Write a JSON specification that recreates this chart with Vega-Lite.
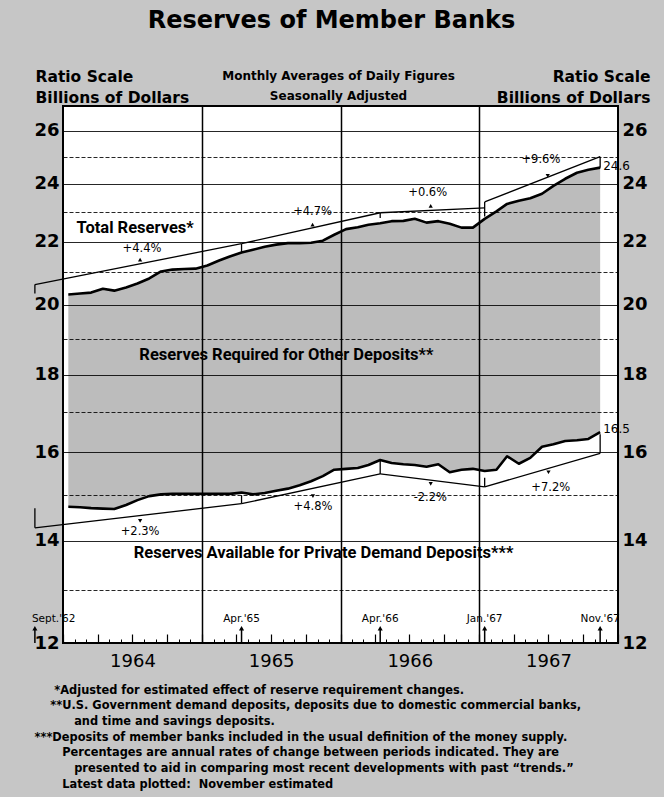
{
  "$schema": "https://vega.github.io/schema/vega-lite/v6.json",
  "width": 555,
  "height": 537,
  "autosize": {"type": "none"},
  "padding": {"left": 63, "top": 106, "right": 46, "bottom": 154},
  "background": "#c6c6c6",
  "view": {"fill": "white", "stroke": "black", "strokeWidth": 2},
  "title": {"text": "Reserves of Member Banks", "font": "DejaVu Sans", "fontSize": 24, "fontWeight": "bold", "color": "black", "anchor": "middle", "frame": "group", "dx": -9, "offset": 36},
  "datasets": {
    "series": [
      {"month": "1964-01-15", "total": 20.31, "private": 14.74},
      {"month": "1964-02-15", "total": 20.34, "private": 14.73},
      {"month": "1964-03-15", "total": 20.37, "private": 14.71},
      {"month": "1964-04-15", "total": 20.49, "private": 14.70},
      {"month": "1964-05-15", "total": 20.43, "private": 14.69},
      {"month": "1964-06-15", "total": 20.53, "private": 14.78},
      {"month": "1964-07-15", "total": 20.65, "private": 14.89},
      {"month": "1964-08-15", "total": 20.81, "private": 14.98},
      {"month": "1964-09-15", "total": 21.03, "private": 15.02},
      {"month": "1964-10-15", "total": 21.09, "private": 15.03},
      {"month": "1964-11-15", "total": 21.11, "private": 15.03},
      {"month": "1964-12-15", "total": 21.12, "private": 15.03},
      {"month": "1965-01-15", "total": 21.22, "private": 15.03},
      {"month": "1965-02-15", "total": 21.38, "private": 15.03},
      {"month": "1965-03-15", "total": 21.51, "private": 15.03},
      {"month": "1965-04-15", "total": 21.64, "private": 15.06},
      {"month": "1965-05-15", "total": 21.73, "private": 15.02},
      {"month": "1965-06-15", "total": 21.83, "private": 15.05},
      {"month": "1965-07-15", "total": 21.90, "private": 15.10},
      {"month": "1965-08-15", "total": 21.95, "private": 15.15},
      {"month": "1965-09-15", "total": 21.95, "private": 15.23},
      {"month": "1965-10-15", "total": 21.96, "private": 15.32},
      {"month": "1965-11-15", "total": 22.03, "private": 15.44},
      {"month": "1965-12-15", "total": 22.23, "private": 15.59},
      {"month": "1966-01-15", "total": 22.42, "private": 15.61},
      {"month": "1966-02-15", "total": 22.48, "private": 15.63},
      {"month": "1966-03-15", "total": 22.57, "private": 15.70},
      {"month": "1966-04-15", "total": 22.62, "private": 15.82},
      {"month": "1966-05-15", "total": 22.69, "private": 15.75},
      {"month": "1966-06-15", "total": 22.70, "private": 15.72},
      {"month": "1966-07-15", "total": 22.77, "private": 15.70},
      {"month": "1966-08-15", "total": 22.64, "private": 15.66},
      {"month": "1966-09-15", "total": 22.69, "private": 15.72},
      {"month": "1966-10-15", "total": 22.60, "private": 15.53},
      {"month": "1966-11-15", "total": 22.47, "private": 15.59},
      {"month": "1966-12-15", "total": 22.47, "private": 15.61},
      {"month": "1967-01-15", "total": 22.77, "private": 15.56},
      {"month": "1967-02-15", "total": 23.03, "private": 15.59},
      {"month": "1967-03-15", "total": 23.29, "private": 15.91},
      {"month": "1967-04-15", "total": 23.40, "private": 15.73},
      {"month": "1967-05-15", "total": 23.49, "private": 15.87},
      {"month": "1967-06-15", "total": 23.65, "private": 16.14},
      {"month": "1967-07-15", "total": 23.93, "private": 16.20},
      {"month": "1967-08-15", "total": 24.19, "private": 16.28},
      {"month": "1967-09-15", "total": 24.41, "private": 16.30},
      {"month": "1967-10-15", "total": 24.52, "private": 16.33},
      {"month": "1967-11-15", "total": 24.60, "private": 16.50}
    ],
    "trend": [
      {"seg": "T1", "date": "1963-10-19", "value": 20.62},
      {"seg": "T1", "date": "1965-04-15", "value": 21.93},
      {"seg": "T2", "date": "1965-04-15", "value": 21.93},
      {"seg": "T2", "date": "1966-04-15", "value": 22.98},
      {"seg": "T3", "date": "1966-04-15", "value": 22.98},
      {"seg": "T3", "date": "1967-01-15", "value": 23.15},
      {"seg": "T4", "date": "1967-01-15", "value": 23.36},
      {"seg": "T4", "date": "1967-11-15", "value": 25.01},
      {"seg": "P1", "date": "1963-10-19", "value": 14.28},
      {"seg": "P1", "date": "1965-04-15", "value": 14.81},
      {"seg": "P2", "date": "1965-04-15", "value": 14.81},
      {"seg": "P2", "date": "1966-04-15", "value": 15.49},
      {"seg": "P3", "date": "1966-04-15", "value": 15.49},
      {"seg": "P3", "date": "1967-01-15", "value": 15.19},
      {"seg": "P4", "date": "1967-01-15", "value": 15.19},
      {"seg": "P4", "date": "1967-11-15", "value": 15.98}
    ],
    "braces": [
      {"date": "1963-10-19", "top": 20.62, "bottom": 20.34},
      {"date": "1965-04-15", "top": 21.93, "bottom": 21.64},
      {"date": "1966-04-15", "top": 22.98, "bottom": 22.80},
      {"date": "1967-01-15", "top": 23.36, "bottom": 22.85},
      {"date": "1967-11-15", "top": 25.01, "bottom": 24.60},
      {"date": "1963-10-19", "top": 14.28, "bottom": 14.71},
      {"date": "1965-04-15", "top": 14.81, "bottom": 15.00},
      {"date": "1966-04-15", "top": 15.49, "bottom": 15.80},
      {"date": "1967-01-15", "top": 15.19, "bottom": 15.40},
      {"date": "1967-11-15", "top": 15.98, "bottom": 16.45}
    ],
    "notches": [
      {"date": "1964-07-22", "value": 21.41, "dir": "up"},
      {"date": "1965-10-19", "value": 22.57, "dir": "up"},
      {"date": "1966-08-26", "value": 23.22, "dir": "up"},
      {"date": "1967-06-30", "value": 24.30, "dir": "down"},
      {"date": "1964-07-22", "value": 14.43, "dir": "down"},
      {"date": "1965-10-20", "value": 14.98, "dir": "down"},
      {"date": "1966-08-26", "value": 15.26, "dir": "down"},
      {"date": "1967-07-02", "value": 15.53, "dir": "down"}
    ],
    "pct": [
      {"date": "1964-07-27", "value": 21.77, "text": "+4.4%"},
      {"date": "1965-10-19", "value": 23.01, "text": "+4.7%"},
      {"date": "1966-08-18", "value": 23.68, "text": "+0.6%"},
      {"date": "1967-06-12", "value": 24.89, "text": "+9.6%"},
      {"date": "1964-07-22", "value": 14.19, "text": "+2.3%"},
      {"date": "1965-10-20", "value": 14.74, "text": "+4.8%"},
      {"date": "1966-08-25", "value": 14.94, "text": "-2.2%"},
      {"date": "1967-07-08", "value": 15.16, "text": "+7.2%"}
    ],
    "endlabels": [
      {"date": "1967-11-15", "value": 24.67, "text": "24.6"},
      {"date": "1967-11-15", "value": 16.57, "text": "16.5"}
    ],
    "regions": [
      {"date": "1964-07-09", "value": 22.47, "text": "Total Reserves*"},
      {"date": "1965-08-11", "value": 18.53, "text": "Reserves Required for Other Deposits**"},
      {"date": "1965-11-17", "value": 13.75, "text": "Reserves Available for Private Demand Deposits***"}
    ],
    "arrows": [
      {"date": "1963-10-19", "label": "Sept.'62"},
      {"date": "1965-04-15", "label": "Apr.'65"},
      {"date": "1966-04-15", "label": "Apr.'66"},
      {"date": "1967-01-15", "label": "Jan.'67"},
      {"date": "1967-11-15", "label": "Nov.'67"}
    ]
  },
  "resolve": {"axis": {"x": "independent", "y": "independent"}},
  "layer": [
    {
      "data": {"name": "series"},
      "mark": {"type": "area", "color": "#bcbcbc", "opacity": 1},
      "encoding": {
        "x": {"field": "month", "type": "temporal",
          "scale": {"type": "utc", "nice": false, "domain": [{"year": 1964, "month": 1, "date": 1, "utc": true}, {"year": 1968, "month": 1, "date": 1, "utc": true}]},
          "axis": {"orient": "bottom", "values": [{"year": 1964, "month": 7, "date": 2, "utc": true}, {"year": 1965, "month": 7, "date": 2, "utc": true}, {"year": 1966, "month": 7, "date": 2, "utc": true}, {"year": 1967, "month": 7, "date": 2, "utc": true}],
            "format": "%Y", "ticks": false, "tickSize": 0, "domain": false, "grid": false,
            "labelFont": "DejaVu Sans", "labelFontSize": 18, "labelColor": "black", "labelPadding": 9,
            "title": ["\u200b\u00a0\u00a0\u00a0\u00a0\u00a0*Adjusted for estimated effect of reserve requirement changes.", "\u200b\u00a0\u00a0\u00a0\u00a0**U.S. Government demand deposits, deposits due to domestic commercial banks,", "\u200b\u00a0\u00a0\u00a0\u00a0\u00a0\u00a0\u00a0\u00a0\u00a0\u00a0and time and savings deposits.", "***Deposits of member banks included in the usual definition of the money supply.", "\u200b\u00a0\u00a0\u00a0\u00a0\u00a0\u00a0\u00a0Percentages are annual rates of change between periods indicated. They are", "\u200b\u00a0\u00a0\u00a0\u00a0\u00a0\u00a0\u00a0\u00a0\u00a0\u00a0presented to aid in comparing most recent developments with past \u201ctrends.\u201d", "\u200b\u00a0\u00a0\u00a0\u00a0\u00a0\u00a0\u00a0Latest data plotted:\u00a0\u00a0November estimated"],
            "titleX": -29, "titleY": 41, "titleAlign": "left", "titleAnchor": "start", "titleBaseline": "top", "titleFont": "DejaVu Sans", "titleFontSize": 11.4, "titleFontWeight": "bold", "titleColor": "black", "titleLineHeight": 15.7}},
        "y": {"field": "total", "type": "quantitative",
          "scale": {"type": "log", "domain": [12, 27], "nice": false},
          "axis": {"orient": "left", "values": [12, 13, 14, 15, 16, 17, 18, 19, 20, 21, 22, 23, 24, 25, 26],
            "format": "d", "labelExpr": "datum.value % 2 === 0 ? datum.label : ''",
            "grid": true, "gridColor": "black", "gridWidth": 1, "gridOpacity": 0.85,
            "gridDash": {"condition": {"test": "datum.value % 2 !== 0", "value": [4, 2]}, "value": []},
            "ticks": false, "tickSize": 0, "domain": false, "zindex": 1,
            "labelFont": "DejaVu Sans", "labelFontSize": 18, "labelFontWeight": "bold", "labelColor": "black", "labelPadding": 4,
            "title": ["Ratio Scale", "Billions of Dollars"], "titleAngle": 0, "titleAlign": "left", "titleBaseline": "alphabetic", "titleX": -28, "titleY": -25,
            "titleFont": "DejaVu Sans", "titleFontSize": 15.5, "titleFontWeight": "bold", "titleColor": "black", "titleLineHeight": 21}},
        "y2": {"field": "private"}
      }
    },
    {
      "data": {"name": "series"},
      "mark": {"type": "line", "color": "black", "strokeWidth": 2.6, "strokeJoin": "round"},
      "encoding": {
        "x": {"field": "month", "type": "temporal", "axis": null},
        "y": {"field": "total", "type": "quantitative", "axis": null}
      }
    },
    {
      "data": {"name": "series"},
      "mark": {"type": "line", "color": "black", "strokeWidth": 2.6, "strokeJoin": "round"},
      "encoding": {
        "x": {"field": "month", "type": "temporal", "axis": null},
        "y": {"field": "private", "type": "quantitative", "axis": null}
      }
    },
    {
      "data": {"name": "series"},
      "mark": {"type": "point", "opacity": 0},
      "encoding": {
        "x": {"field": "month", "type": "temporal",
          "axis": {"orient": "bottom", "values": [{"year": 1965, "month": 1, "date": 1, "utc": true}, {"year": 1966, "month": 1, "date": 1, "utc": true}, {"year": 1967, "month": 1, "date": 1, "utc": true}],
            "labels": false, "ticks": false, "domain": false, "grid": true, "gridColor": "black", "gridWidth": 1.5, "gridOpacity": 1, "title": null, "zindex": 1}},
        "y": {"field": "total", "type": "quantitative",
          "axis": {"orient": "right", "values": [12, 14, 16, 18, 20, 22, 24, 26], "format": "d",
            "grid": false, "ticks": false, "tickSize": 0, "domain": false,
            "labelFont": "DejaVu Sans", "labelFontSize": 18, "labelFontWeight": "bold", "labelColor": "black", "labelPadding": 4,
            "title": ["Ratio Scale", "Billions of Dollars"], "titleAngle": 0, "titleAlign": "right", "titleBaseline": "alphabetic", "titleX": 32, "titleY": -25,
            "titleFont": "DejaVu Sans", "titleFontSize": 15.5, "titleFontWeight": "bold", "titleColor": "black", "titleLineHeight": 21}}
      }
    },
    {
      "data": {"name": "series"},
      "mark": {"type": "point", "opacity": 0},
      "encoding": {
        "x": {"field": "month", "type": "temporal",
          "axis": {"orient": "bottom", "tickCount": {"interval": "month", "step": 1}, "tickSize": -4, "tickColor": "black", "tickWidth": 1,
            "labels": false, "domain": false, "grid": false, "title": null, "zindex": 1}},
        "y": {"field": "total", "type": "quantitative", "axis": null}
      }
    },
    {
      "data": {"name": "series"},
      "mark": {"type": "point", "opacity": 0},
      "encoding": {
        "x": {"field": "month", "type": "temporal",
          "axis": {"orient": "bottom", "tickCount": {"interval": "month", "step": 3}, "tickSize": -9, "tickColor": "black", "tickWidth": 1.2,
            "labels": false, "domain": false, "grid": false, "title": null, "zindex": 1}},
        "y": {"field": "total", "type": "quantitative", "axis": null}
      }
    },
    {
      "data": {"name": "series"},
      "mark": {"type": "point", "opacity": 0},
      "encoding": {
        "x": {"field": "month", "type": "temporal",
          "axis": {"orient": "top", "labels": false, "ticks": false, "domain": false, "grid": false,
            "title": ["Monthly Averages of Daily Figures", "Seasonally Adjusted"], "titleX": 275, "titleY": -27, "titleAlign": "center", "titleBaseline": "alphabetic",
            "titleFont": "DejaVu Sans", "titleFontSize": 12, "titleFontWeight": "bold", "titleColor": "black", "titleLineHeight": 20}},
        "y": {"field": "total", "type": "quantitative", "axis": null}
      }
    },
    {
      "data": {"name": "trend"},
      "mark": {"type": "line", "color": "black", "strokeWidth": 1.3},
      "encoding": {
        "x": {"field": "date", "type": "temporal", "axis": null},
        "y": {"field": "value", "type": "quantitative", "axis": null},
        "detail": {"field": "seg"}
      }
    },
    {
      "data": {"name": "braces"},
      "mark": {"type": "rule", "color": "black", "strokeWidth": 1.3},
      "encoding": {
        "x": {"field": "date", "type": "temporal", "axis": null},
        "y": {"field": "top", "type": "quantitative", "axis": null},
        "y2": {"field": "bottom"}
      }
    },
    {
      "data": {"name": "notches"},
      "mark": {"type": "point", "filled": true, "color": "black", "size": 18, "opacity": 1},
      "encoding": {
        "x": {"field": "date", "type": "temporal", "axis": null},
        "y": {"field": "value", "type": "quantitative", "axis": null},
        "shape": {"field": "dir", "type": "nominal", "scale": {"domain": ["up", "down"], "range": ["triangle-up", "triangle-down"]}, "legend": null}
      }
    },
    {
      "data": {"name": "pct"},
      "mark": {"type": "text", "font": "DejaVu Sans", "fontSize": 11.5, "color": "black", "align": "center", "baseline": "middle"},
      "encoding": {
        "x": {"field": "date", "type": "temporal", "axis": null},
        "y": {"field": "value", "type": "quantitative", "axis": null},
        "text": {"field": "text"}
      }
    },
    {
      "data": {"name": "endlabels"},
      "mark": {"type": "text", "font": "DejaVu Sans", "fontSize": 12, "color": "black", "align": "left", "baseline": "middle", "dx": 3},
      "encoding": {
        "x": {"field": "date", "type": "temporal", "axis": null},
        "y": {"field": "value", "type": "quantitative", "axis": null},
        "text": {"field": "text"}
      }
    },
    {
      "data": {"name": "regions"},
      "mark": {"type": "text", "font": "Roboto", "fontSize": 16.5, "fontWeight": "bold", "color": "black", "align": "center", "baseline": "middle"},
      "encoding": {
        "x": {"field": "date", "type": "temporal", "axis": null},
        "y": {"field": "value", "type": "quantitative", "axis": null},
        "text": {"field": "text"}
      }
    },
    {
      "data": {"name": "arrows"},
      "mark": {"type": "rule", "color": "black", "strokeWidth": 1.5},
      "encoding": {
        "x": {"field": "date", "type": "temporal", "axis": null},
        "y": {"datum": 12, "type": "quantitative", "axis": null},
        "y2": {"datum": 12.27}
      }
    },
    {
      "data": {"name": "arrows"},
      "mark": {"type": "point", "shape": "triangle-up", "filled": true, "color": "black", "size": 26, "opacity": 1},
      "encoding": {
        "x": {"field": "date", "type": "temporal", "axis": null},
        "y": {"datum": 12.27, "type": "quantitative", "axis": null}
      }
    },
    {
      "data": {"name": "arrows"},
      "transform": [{"filter": "datum.label !== \"Sept.'62\""}],
      "mark": {"type": "text", "font": "DejaVu Sans", "fontSize": 10.5, "color": "black", "align": "center", "baseline": "middle"},
      "encoding": {
        "x": {"field": "date", "type": "temporal", "axis": null},
        "y": {"datum": 12.45, "type": "quantitative", "axis": null},
        "text": {"field": "label"}
      }
    },
    {
      "data": {"name": "arrows"},
      "transform": [{"filter": "datum.label === \"Sept.'62\""}],
      "mark": {"type": "text", "font": "DejaVu Sans", "fontSize": 10.5, "color": "black", "align": "left", "baseline": "middle", "dx": -3},
      "encoding": {
        "x": {"field": "date", "type": "temporal", "axis": null},
        "y": {"datum": 12.45, "type": "quantitative", "axis": null},
        "text": {"field": "label"}
      }
    }
  ]
}
